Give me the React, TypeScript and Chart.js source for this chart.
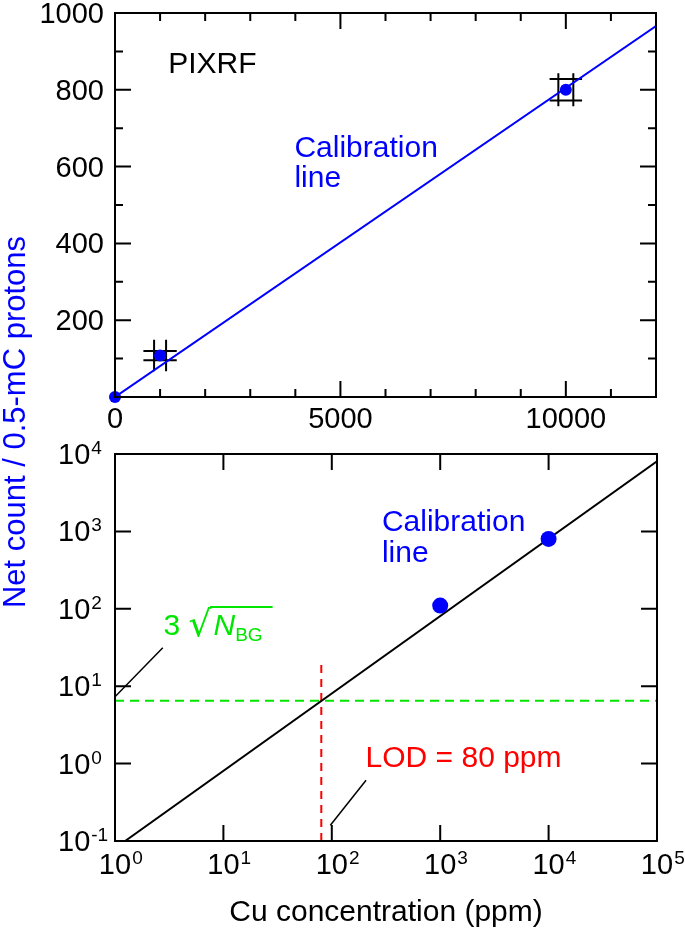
import React, { useEffect, useRef } from 'react';
import { Chart, registerables } from 'chart.js';

Chart.register(...registerables);

const W = 685;
const H = 930;
const FONT = '"Liberation Sans", Arial, Helvetica, sans-serif';
const BLUE = '#0000ff';
const GREEN = '#00e600';
const RED = '#ff0000';
const BLACK = '#000000';

// ---------- data (top panel, linear) ----------
const concentrations = [0, 1000, 10000]; // ppm
const netCounts = [0, 108, 800]; // counts / 0.5 mC
const errBarHalfX = [0, 370, 360]; // ppm
const errBarHalfY = [0, 41, 43]; // counts
const errBarGapX = [0, 133, 166]; // ppm
const errBarGapY = [0, 12, 28]; // counts
const calibLineX = [0, 12000];
const calibLineY = [0, 966];

// ---------- data (bottom panel, log-log) ----------
const logConcentrations = [1000, 10000];
const logNetCounts = [110, 800];
const logCalibLineX = [1.24, 100000];
const logCalibLineY = [0.1, 8050];
const bgLevel = 6.5; // 3*sqrt(N_BG)
const bgLineX = [1, 100000];
const lodPpm = 80;
const lodLineY = [0.1, 21];
const bgPointerX = [1, 2.76];
const bgPointerY = [7.3, 31.4];
const lodPointerX = [97, 207];
const lodPointerY = [0.16, 0.61];

// ---------- ticks ----------
const topXMajor = [0, 5000, 10000];
const topXMinor = [1000, 2000, 3000, 4000, 6000, 7000, 8000, 9000, 11000];
const topXLabels = ['0', '5000', '10000'];
const topYMajor = [200, 400, 600, 800, 1000];
const topYMinor = [100, 300, 500, 700, 900];
const topYLabels = ['200', '400', '600', '800', '1000'];
const logXDecades = [0, 1, 2, 3, 4, 5];
const logYDecades = [-1, 0, 1, 2, 3, 4];

const toXY = (xs: number[], ys: number[]) => xs.map((x, i) => ({ x, y: ys[i] }));

function drawFrame(chart: any) {
  const { ctx, chartArea: a } = chart;
  ctx.save();
  ctx.strokeStyle = BLACK;
  ctx.lineWidth = 2;
  ctx.strokeRect(a.left, a.top, a.right - a.left, a.bottom - a.top);
  ctx.restore();
}

function drawXTicks(chart: any, values: number[], len: number) {
  const { ctx, chartArea: a } = chart;
  const sx = chart.scales.x;
  ctx.save();
  ctx.strokeStyle = BLACK;
  ctx.lineWidth = 2;
  ctx.beginPath();
  values.forEach((v) => {
    const px = sx.getPixelForValue(v);
    ctx.moveTo(px, a.bottom);
    ctx.lineTo(px, a.bottom - len);
    ctx.moveTo(px, a.top);
    ctx.lineTo(px, a.top + len);
  });
  ctx.stroke();
  ctx.restore();
}

function drawYTicks(chart: any, values: number[], len: number) {
  const { ctx, chartArea: a } = chart;
  const sy = chart.scales.y;
  ctx.save();
  ctx.strokeStyle = BLACK;
  ctx.lineWidth = 2;
  ctx.beginPath();
  values.forEach((v) => {
    const py = sy.getPixelForValue(v);
    ctx.moveTo(a.left, py);
    ctx.lineTo(a.left + len, py);
    ctx.moveTo(a.right, py);
    ctx.lineTo(a.right - len, py);
  });
  ctx.stroke();
  ctx.restore();
}

function text(ctx: any, s: string, x: number, y: number, color: string, size: number, align = 'left', style = '') {
  ctx.save();
  ctx.font = `${style} ${size}px ${FONT}`;
  ctx.fillStyle = color;
  ctx.textAlign = align;
  ctx.textBaseline = 'alphabetic';
  ctx.fillText(s, x, y);
  ctx.restore();
}

const TICK_SIZE = 29;
const EXP_SIZE = 19;
const LABEL_SIZE = 30;

const topDecor = {
  id: 'topDecor',
  beforeDatasetsDraw(chart: any) {
    const { ctx } = chart;
    const sx = chart.scales.x;
    const sy = chart.scales.y;
    ctx.save();
    ctx.strokeStyle = BLACK;
    ctx.lineWidth = 2;
    ctx.beginPath();
    concentrations.forEach((c, i) => {
      if (!errBarHalfX[i]) return;
      const n = netCounts[i];
      [c - errBarGapX[i], c + errBarGapX[i]].forEach((xv) => {
        const px = sx.getPixelForValue(xv);
        ctx.moveTo(px, sy.getPixelForValue(n - errBarHalfY[i]));
        ctx.lineTo(px, sy.getPixelForValue(n + errBarHalfY[i]));
      });
      [n - errBarGapY[i], n + errBarGapY[i]].forEach((yv) => {
        const py = sy.getPixelForValue(yv);
        ctx.moveTo(sx.getPixelForValue(c - errBarHalfX[i]), py);
        ctx.lineTo(sx.getPixelForValue(c + errBarHalfX[i]), py);
      });
    });
    ctx.stroke();
    ctx.restore();
  },
  afterDraw(chart: any) {
    const { ctx, chartArea: a } = chart;
    const sx = chart.scales.x;
    const sy = chart.scales.y;
    drawFrame(chart);
    drawXTicks(chart, topXMajor, 16);
    drawXTicks(chart, topXMinor, 8);
    drawYTicks(chart, topYMajor, 16);
    drawYTicks(chart, topYMinor, 8);
    topXMajor.forEach((v, i) => {
      text(ctx, topXLabels[i], sx.getPixelForValue(v), a.bottom + 31, BLACK, TICK_SIZE, 'center');
    });
    topYMajor.forEach((v, i) => {
      text(ctx, topYLabels[i], a.left - 11, sy.getPixelForValue(v) + 10, BLACK, TICK_SIZE, 'right');
    });
    text(ctx, 'PIXRF', sx.getPixelForValue(1180), sy.getPixelForValue(843), BLACK, LABEL_SIZE);
    text(ctx, 'Calibration', sx.getPixelForValue(3980), sy.getPixelForValue(625), BLUE, LABEL_SIZE);
    text(ctx, 'line', sx.getPixelForValue(3980), sy.getPixelForValue(547), BLUE, LABEL_SIZE);
    // shared y-axis title
    ctx.save();
    ctx.translate(25, 422);
    ctx.rotate(-Math.PI / 2);
    ctx.font = `31px ${FONT}`;
    ctx.fillStyle = BLUE;
    ctx.textAlign = 'center';
    ctx.textBaseline = 'alphabetic';
    ctx.fillText('Net count / 0.5-mC protons', 0, 0);
    ctx.restore();
  },
};

function drawPow(ctx: any, exp: string, x: number, baseline: number, mode: 'center' | 'left') {
  ctx.save();
  ctx.font = `${TICK_SIZE}px ${FONT}`;
  ctx.fillStyle = BLACK;
  ctx.textAlign = 'left';
  ctx.textBaseline = 'alphabetic';
  const w = ctx.measureText('10').width;
  const x0 = mode === 'center' ? x - w / 2 : x;
  ctx.fillText('10', x0, baseline);
  ctx.font = `${EXP_SIZE}px ${FONT}`;
  ctx.fillText(exp, x0 + w + 1, baseline - 10);
  ctx.restore();
}

const bottomDecor = {
  id: 'bottomDecor',
  afterDraw(chart: any) {
    const { ctx, chartArea: a } = chart;
    const sx = chart.scales.x;
    const sy = chart.scales.y;
    drawFrame(chart);
    drawXTicks(chart, logXDecades.map((d) => Math.pow(10, d)), 16);
    drawYTicks(chart, logYDecades.map((d) => Math.pow(10, d)), 16);
    logXDecades.forEach((d) => {
      drawPow(ctx, String(d), sx.getPixelForValue(Math.pow(10, d)), a.bottom + 33, 'center');
    });
    logYDecades.forEach((d) => {
      drawPow(ctx, String(d), 58, sy.getPixelForValue(Math.pow(10, d)) + 10, 'left');
    });
    text(ctx, 'Cu concentration (ppm)', (a.left + a.right) / 2, a.bottom + 80, BLACK, LABEL_SIZE, 'center');
    text(ctx, 'Calibration', sx.getPixelForValue(290), sy.getPixelForValue(1000), BLUE, LABEL_SIZE);
    text(ctx, 'line', sx.getPixelForValue(290), sy.getPixelForValue(406), BLUE, LABEL_SIZE);
    text(ctx, 'LOD = 80 ppm', sx.getPixelForValue(205), sy.getPixelForValue(0.905), RED, LABEL_SIZE);
    // 3 sqrt(N_BG)
    ctx.save();
    const bx = sx.getPixelForValue(2.8);
    const by = sy.getPixelForValue(45.8);
    ctx.fillStyle = GREEN;
    ctx.strokeStyle = GREEN;
    ctx.textBaseline = 'alphabetic';
    ctx.textAlign = 'left';
    ctx.font = `${LABEL_SIZE}px ${FONT}`;
    ctx.fillText('3', bx, by);
    let cx = bx + ctx.measureText('3 ').width;
    ctx.font = `36px "DejaVu Sans", ${FONT}`;
    const rm = ctx.measureText('\u221A');
    ctx.fillText('\u221A', cx - rm.actualBoundingBoxLeft * 0, by + 1);
    const topY = by + 1 - rm.actualBoundingBoxAscent;
    const radEnd = cx + rm.actualBoundingBoxRight;
    cx = radEnd + 2;
    ctx.font = `italic ${LABEL_SIZE}px ${FONT}`;
    ctx.fillText('N', cx, by);
    cx += ctx.measureText('N').width;
    ctx.font = `${EXP_SIZE}px ${FONT}`;
    ctx.fillText('BG', cx, by + 6);
    cx += ctx.measureText('BG').width;
    ctx.lineWidth = 2;
    ctx.beginPath();
    ctx.moveTo(radEnd - 1.5, topY + 1);
    ctx.lineTo(cx + 10, topY + 1);
    ctx.stroke();
    ctx.restore();
  },
};

export default function App() {
  const topRef = useRef<HTMLCanvasElement>(null);
  const botRef = useRef<HTMLCanvasElement>(null);

  useEffect(() => {
    document.body.style.margin = '0';
    const common = {
      responsive: false,
      maintainAspectRatio: false,
      animation: false,
      devicePixelRatio: 1,
      events: [],
      plugins: { legend: { display: false }, tooltip: { enabled: false } },
    };
    const top = new Chart(topRef.current as HTMLCanvasElement, {
      type: 'scatter',
      data: {
        datasets: [
          {
            label: 'Samples',
            data: toXY(concentrations, netCounts),
            pointRadius: 6,
            pointBackgroundColor: BLUE,
            pointBorderColor: BLUE,
            pointBorderWidth: 0,
            showLine: false,
            clip: false,
          },
          {
            label: 'Calibration line',
            data: toXY(calibLineX, calibLineY),
            showLine: true,
            borderColor: BLUE,
            borderWidth: 2,
            pointRadius: 0,
          },
        ],
      },
      options: {
        ...common,
        layout: { padding: { left: 115, right: 29, top: 13, bottom: 533 } },
        scales: {
          x: { type: 'linear', min: 0, max: 12000, display: false },
          y: { type: 'linear', min: 0, max: 1000, display: false },
        },
      } as any,
      plugins: [topDecor],
    } as any);

    const bot = new Chart(botRef.current as HTMLCanvasElement, {
      type: 'scatter',
      data: {
        datasets: [
          {
            label: 'Samples',
            data: toXY(logConcentrations, logNetCounts),
            pointRadius: 8,
            pointBackgroundColor: BLUE,
            pointBorderColor: BLUE,
            pointBorderWidth: 0,
            showLine: false,
            clip: false,
          },
          {
            label: 'Calibration line',
            data: toXY(logCalibLineX, logCalibLineY),
            showLine: true,
            borderColor: BLACK,
            borderWidth: 2,
            pointRadius: 0,
          },
          {
            label: '3 sqrt(N_BG)',
            data: toXY(bgLineX, [bgLevel, bgLevel]),
            showLine: true,
            borderColor: GREEN,
            borderWidth: 2,
            borderDash: [9, 6],
            pointRadius: 0,
          },
          {
            label: 'LOD',
            data: toXY([lodPpm, lodPpm], lodLineY),
            showLine: true,
            borderColor: RED,
            borderWidth: 2,
            borderDash: [8, 6],
            pointRadius: 0,
          },
          {
            label: 'bg pointer',
            data: toXY(bgPointerX, bgPointerY),
            showLine: true,
            borderColor: BLACK,
            borderWidth: 1.5,
            pointRadius: 0,
          },
          {
            label: 'lod pointer',
            data: toXY(lodPointerX, lodPointerY),
            showLine: true,
            borderColor: BLACK,
            borderWidth: 1.5,
            pointRadius: 0,
          },
        ],
      },
      options: {
        ...common,
        layout: { padding: { left: 115, right: 28, top: 454, bottom: 89 } },
        scales: {
          x: { type: 'logarithmic', min: 1, max: 100000, display: false },
          y: { type: 'logarithmic', min: 0.1, max: 10000, display: false },
        },
      } as any,
      plugins: [bottomDecor],
    } as any);

    return () => {
      top.destroy();
      bot.destroy();
    };
  }, []);

  const cs: React.CSSProperties = { position: 'absolute', left: 0, top: 0, width: W, height: H };
  return (
    <div style={{ position: 'absolute', left: 0, top: 0, width: W, height: H, background: '#ffffff' }}>
      <canvas ref={topRef} width={W} height={H} style={cs} />
      <canvas ref={botRef} width={W} height={H} style={cs} />
    </div>
  );
}
